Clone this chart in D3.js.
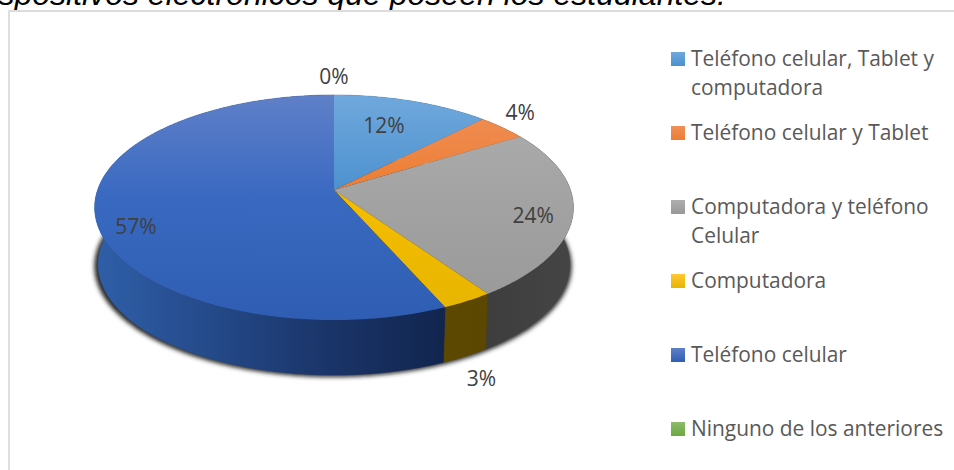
<!DOCTYPE html>
<html>
<head>
<meta charset="utf-8">
<script src="https://cdn.jsdelivr.net/npm/d3@7"></script>
<style>
  html, body { margin: 0; padding: 0; background: #fff; overflow: hidden; }
  svg { display: block; }
  text { font-family: "Open Sans", "Noto Sans", sans-serif; }
</style>
</head>
<body>
<svg id="chart" width="954" height="470"></svg>
<script>
// *********************************************
// DATA
// *********************************************
var categories = ["Teléfono celular, Tablet y computadora", "Teléfono celular y Tablet",
                  "Computadora y teléfono Celular", "Computadora", "Teléfono celular", "Ninguno de los anteriores"];
var legendLines = [["Teléfono celular, Tablet y", "computadora"], ["Teléfono celular y Tablet"],
                   ["Computadora y teléfono", "Celular"], ["Computadora"], ["Teléfono celular"], ["Ninguno de los anteriores"]];
// slice sizes, labels round them
var shares = [12.3, 3.9, 24.2, 3.0, 56.6, 0];
var percentLabels = ["12%", "4%", "24%", "3%", "57%", "0%"];
var titleText = "Dispositivos electrónicos que poseen los estudiantes.";

// *********************************************
// SETUP
// *********************************************
var width = 954, height = 470;
var colorTop = ["#70a8dc", "#f0905a", "#aeaeae", "#ffc833", "#5f80c8", "#8cbc6c"],
    colorMid = ["#4a90cf", "#ed7d31", "#a3a3a3", "#f5bd00", "#3a69c1", "#6ca83f"],
    colorEnd = ["#4a90cf", "#ed7d31", "#989898", "#e6b400", "#2e5db3", "#6ca83f"],
    wallLeft = ["#2f5f92", "#8c4a1c", "#3a3a3a", "#5c4800", "#2f5fa9", "#3f6324"],
    wallRight = ["#2f5f92", "#8c4a1c", "#454545", "#5a4600", "#11254e", "#3f6324"];

var svg = d3.select("#chart");
var defs = svg.append("defs");

// pie tilted in perspective: the apex does not sit in the middle of the ellipse
var cx = 334, apexY = 190, halfW = 236.5, halfH = 109.8, persp = 0.1556;
var thick = 57, shrink = 0.985;

function project(angle) {
  var u = Math.sin(angle), v = -Math.cos(angle), den = 1 - persp * v;
  return [cx + halfW * u / den, apexY + halfH * v / den];
}
function lower(p) {
  return [cx + (p[0] - cx) * shrink, apexY + (p[1] - apexY) * shrink + thick];
}
function rim(d) {
  var n = Math.max(2, Math.ceil((d.endAngle - d.startAngle) / 0.01));
  return d3.range(n + 1).map(i => project(d.startAngle + (d.endAngle - d.startAngle) * i / n));
}

var pie = d3.pie().sort(null).value(d => d);
var arcs = pie(shares);
var line = d3.line();

arcs.forEach(function(d, i) {
  var g = defs.append("linearGradient").attr("id", "top" + i)
    .attr("gradientUnits", "userSpaceOnUse")
    .attr("x1", 0).attr("x2", 0).attr("y1", apexY - 95).attr("y2", apexY + 130);
  g.append("stop").attr("offset", "0").attr("stop-color", colorTop[i]);
  g.append("stop").attr("offset", "0.45").attr("stop-color", colorMid[i]);
  g.append("stop").attr("offset", "1").attr("stop-color", colorEnd[i]);

  var w = defs.append("linearGradient").attr("id", "wall" + i)
    .attr("gradientUnits", "userSpaceOnUse")
    .attr("y1", 0).attr("y2", 0);
  if (i == 4) { w.attr("x1", cx - 240).attr("x2", cx + 112); }
  else { w.attr("x1", cx + 110).attr("x2", cx + 240); }
  w.append("stop").attr("offset", "0").attr("stop-color", wallLeft[i]);
  if (i == 4) w.append("stop").attr("offset", "0.66").attr("stop-color", "#1a3569");
  w.append("stop").attr("offset", "1").attr("stop-color", wallRight[i]);

  var l = defs.append("linearGradient").attr("id", "swatch" + i)
    .attr("x1", 0).attr("x2", 0).attr("y1", 0).attr("y2", 1);
  l.append("stop").attr("offset", "0").attr("stop-color", colorTop[i]);
  l.append("stop").attr("offset", "1").attr("stop-color", colorEnd[i]);
});

defs.append("filter").attr("id", "soft")
    .attr("x", "-5%").attr("y", "-5%").attr("width", "110%").attr("height", "110%")
  .append("feGaussianBlur").attr("stdDeviation", 2);

// *********************************************
// FRAME AND TITLE
// *********************************************
svg.append("text")
    .attr("x", 726).attr("y", 5)
    .attr("text-anchor", "end")
    .style("font-family", "'Liberation Sans', Arial, sans-serif")
    .style("font-style", "italic")
    .style("font-size", "32px")
    .attr("fill", "#000")
    .text(titleText);

svg.append("path")
    .attr("d", "M9," + height + "V11H" + width)
    .attr("fill", "none")
    .attr("stroke", "#dcdcdc")
    .attr("stroke-width", 1.8);

// *********************************************
// PIE
// *********************************************
var whole = { startAngle: 0, endAngle: 2 * Math.PI };
var wholeRim = rim(whole);

svg.append("path")
    .attr("d", line(wholeRim.map(p => { var q = lower(p); return [q[0] - 1 + (q[0] - cx) * 0.012, q[1] + 2]; })) + "Z")
    .attr("fill", "#2a2a2a")
    .attr("filter", "url(#soft)");

svg.append("g").selectAll("path")
    .data(arcs)
    .enter().append("path")
      .attr("d", function(d) {
        var r = rim(d);
        return line(r.concat(r.map(lower).reverse())) + "Z";
      })
      .attr("fill", (d, i) => "url(#wall" + i + ")")
      .attr("stroke", (d, i) => "url(#wall" + i + ")")
      .attr("stroke-width", 0.4);

svg.append("g").selectAll("path")
    .data(arcs)
    .enter().append("path")
      .attr("d", d => line([[cx, apexY]].concat(rim(d))) + "Z")
      .attr("fill", (d, i) => "url(#top" + i + ")");

// labels sit off the rim point at the middle of each slice
var labelNudge = [[-28, 25], [18, -15], [-40, 2], [14, 78], [41, 13], [0, -18]];

svg.append("g").selectAll("text")
    .data(arcs)
    .enter().append("text")
      .attr("x", (d, i) => project((d.startAngle + d.endAngle) / 2)[0] + labelNudge[i][0])
      .attr("y", (d, i) => project((d.startAngle + d.endAngle) / 2)[1] + labelNudge[i][1])
      .attr("dy", "0.35em")
      .attr("text-anchor", "middle")
      .attr("fill", "#404040")
      .style("font-size", "21px")
      .text((d, i) => percentLabels[i]);

// *********************************************
// LEGEND
// *********************************************
var legendY = d3.scalePoint().domain(categories).range([52, 422]);

var item = svg.append("g").selectAll("g")
    .data(categories)
    .enter().append("g")
      .attr("transform", d => "translate(671," + legendY(d) + ")");

item.append("rect")
    .attr("width", 14).attr("height", 14)
    .attr("fill", (d, i) => "url(#swatch" + i + ")");

item.append("text")
    .attr("x", 20).attr("y", 14)
    .attr("fill", "#595959")
    .style("font-size", "20.9px")
    .selectAll("tspan")
    .data((d, i) => legendLines[i])
    .enter().append("tspan")
      .attr("x", 20)
      .attr("dy", (d, i) => i ? 29 : 0)
      .text(d => d);
</script>
</body>
</html>
